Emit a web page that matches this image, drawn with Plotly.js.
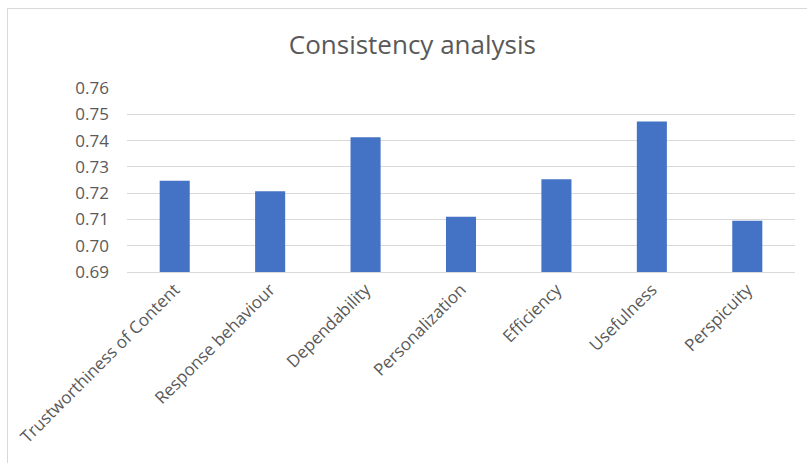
<!DOCTYPE html>
<html>
<head>
<meta charset="utf-8">
<script src="https://cdn.plot.ly/plotly-3.0.1.min.js"></script>
<style>
  html, body { margin: 0; padding: 0; background: #ffffff; overflow: hidden; }
  #frame {
    position: absolute; left: 7px; top: 8px; width: 820px; height: 470px;
    border-left: 1.5px solid #d9d9d9; border-top: 1.5px solid #d9d9d9;
  }
  #chart { position: absolute; left: 0; top: 0; width: 807px; height: 463px; }
</style>
</head>
<body>
<div id="frame"></div>
<div id="chart"></div>
<script>
// Dimensions of the questionnaire and their consistency scores
const categories = [
  "Trustworthiness of Content",
  "Response behaviour",
  "Dependability",
  "Personalization",
  "Efficiency",
  "Usefulness",
  "Perspicuity"
];
const scores = [0.7247, 0.7207, 0.7413, 0.7110, 0.7253, 0.7473, 0.7095];
const yTicks = [0.69, 0.70, 0.71, 0.72, 0.73, 0.74, 0.75, 0.76];
const yTickLabels = ["0.69", "0.70", "0.71", "0.72", "0.73", "0.74", "0.75", "0.76"];

const textColor = "#595959";
const fontFamily = "Open Sans, Noto Sans, sans-serif";

const trace = {
  type: "bar",
  x: categories,
  y: scores,
  marker: { color: "#4472C4" },
  hoverinfo: "x+y"
};

const layout = {
  width: 807,
  height: 463,
  paper_bgcolor: "rgba(0,0,0,0)",
  plot_bgcolor: "rgba(0,0,0,0)",
  margin: { l: 127, r: 12, t: 88, b: 191 },
  bargap: 0.685,
  showlegend: false,
  title: {
    text: "Consistency analysis",
    font: { family: fontFamily, size: 26, color: textColor },
    x: 0.511, xanchor: "center",
    y: 0.903, yanchor: "middle"
  },
  xaxis: {
    type: "category",
    tickangle: -45,
    tickfont: { family: fontFamily, size: 17, color: textColor },
    showgrid: false,
    showline: true,
    linecolor: "#d9d9d9",
    linewidth: 1,
    ticks: "",
    zeroline: false
  },
  yaxis: {
    range: [0.69, 0.76],
    tickvals: yTicks,
    ticktext: yTickLabels,
    tickfont: { family: fontFamily, size: 17, color: textColor },
    showgrid: true,
    gridcolor: "#d9d9d9",
    gridwidth: 1,
    showline: false,
    zeroline: false,
    ticks: "",
    ticklabelstandoff: 17
  }
};

Plotly.newPlot("chart", [trace], layout, { displayModeBar: false, staticPlot: true });
</script>
</body>
</html>
